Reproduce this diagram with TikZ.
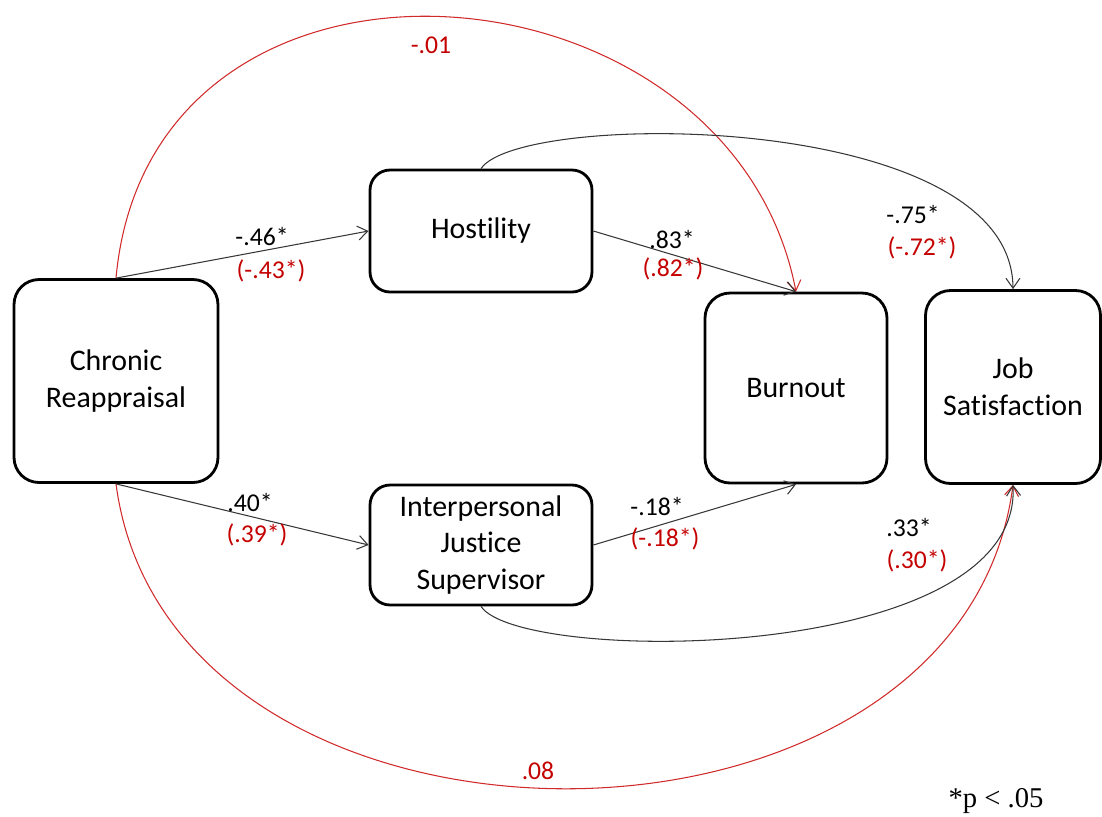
\documentclass[tikz,border=0pt]{standalone}
\usepackage{fontspec}
\setmainfont{Carlito}[Ligatures=CommonOff]
\newfontfamily\notefont{Liberation Serif}
\usetikzlibrary{arrows.meta}
\definecolor{pathred}{RGB}{208,42,42}
\definecolor{labelred}{RGB}{196,0,0}
\definecolor{pathgray}{RGB}{55,55,55}

\begin{document}
\begin{tikzpicture}[
    x=0.02cm, y=-0.02cm,
    varbox/.style={rectangle, draw=black, line width=1.6pt, rounded corners=0.4cm,
                   fill=white, align=center, font=\fontsize{17}{21}\selectfont},
    arrow/.style={-{Straight Barb[length=2mm, width=2.8mm]}, draw=pathgray, line width=0.6pt},
    redarrow/.style={arrow, draw=pathred},
    coef/.style={font=\fontsize{14.6}{17}\selectfont, inner sep=0pt},
    redcoef/.style={coef, text=labelred}
]
\useasboundingbox (0,0) rectangle (1102,816);
%% Variables
\node[varbox, minimum width=4.08cm, minimum height=4.06cm, rounded corners=0.5cm]
      (chronic) at (116,381) {Chronic\\Reappraisal};
\node[varbox, minimum width=4.44cm, minimum height=2.44cm] (hostility) at (481,231) {Hostility};
\node[varbox, minimum width=4.44cm, minimum height=2.4cm] (justice) at (481,545)
      {Interpersonal\\Justice\\Supervisor};
\node[varbox, minimum width=3.64cm, minimum height=3.8cm, rounded corners=0.5cm]
      (burnout) at (796,388) {Burnout};
\node[varbox, minimum width=3.5cm, minimum height=3.86cm, rounded corners=0.5cm]
      (jobsat) at (1013,387) {Job\\Satisfaction};
%% Direct paths (red)
\draw[redarrow] (chronic.north) .. controls (150,-95) and (730,-50) .. (burnout.north);
\draw[redarrow] (chronic.south) .. controls (170,890) and (960,890) .. (jobsat.south);
%% Indirect paths
\draw[arrow] (chronic.north) -- (hostility.west);
\draw[arrow] (chronic.south) -- (justice.west);
\draw[arrow] (hostility.east) -- (burnout.north);
\draw[arrow] (justice.east) -- (burnout.south);
\draw[arrow] (hostility.north) .. controls (520,110) and (1012,110) .. (jobsat.north);
\draw[arrow] (justice.south) .. controls (520,665) and (1022,665) .. (jobsat.south);
%% Coefficients
\node[coef] (c1) at (262,236) {-.46*};
\node[redcoef] (c1r) at (271,271) {(-.43*)};
\node[coef] (c2) at (250,502) {.40*};
\node[redcoef] (c2r) at (257,535) {(.39*)};
\node[coef] (c3) at (672,239) {.83*};
\node[redcoef] (c3r) at (673,269) {(.82*)};
\node[coef] (c4) at (657,506) {-.18*};
\node[redcoef] (c4r) at (665,539) {(-.18*)};
\node[coef] (c5) at (913,214) {-.75*};
\node[redcoef] (c5r) at (922,248) {(-.72*)};
\node[coef] (c6) at (909,527) {.33*};
\node[redcoef] (c6r) at (917,561) {(.30*)};
\node[redcoef] (c7) at (431,45) {-.01};
\node[redcoef] (c8) at (538,771) {.08};
%% Note
\node[font=\notefont\fontsize{16.3}{19}\selectfont, inner sep=0pt] (note) at (996,801) {*p < .05};
\end{tikzpicture}
\end{document}
